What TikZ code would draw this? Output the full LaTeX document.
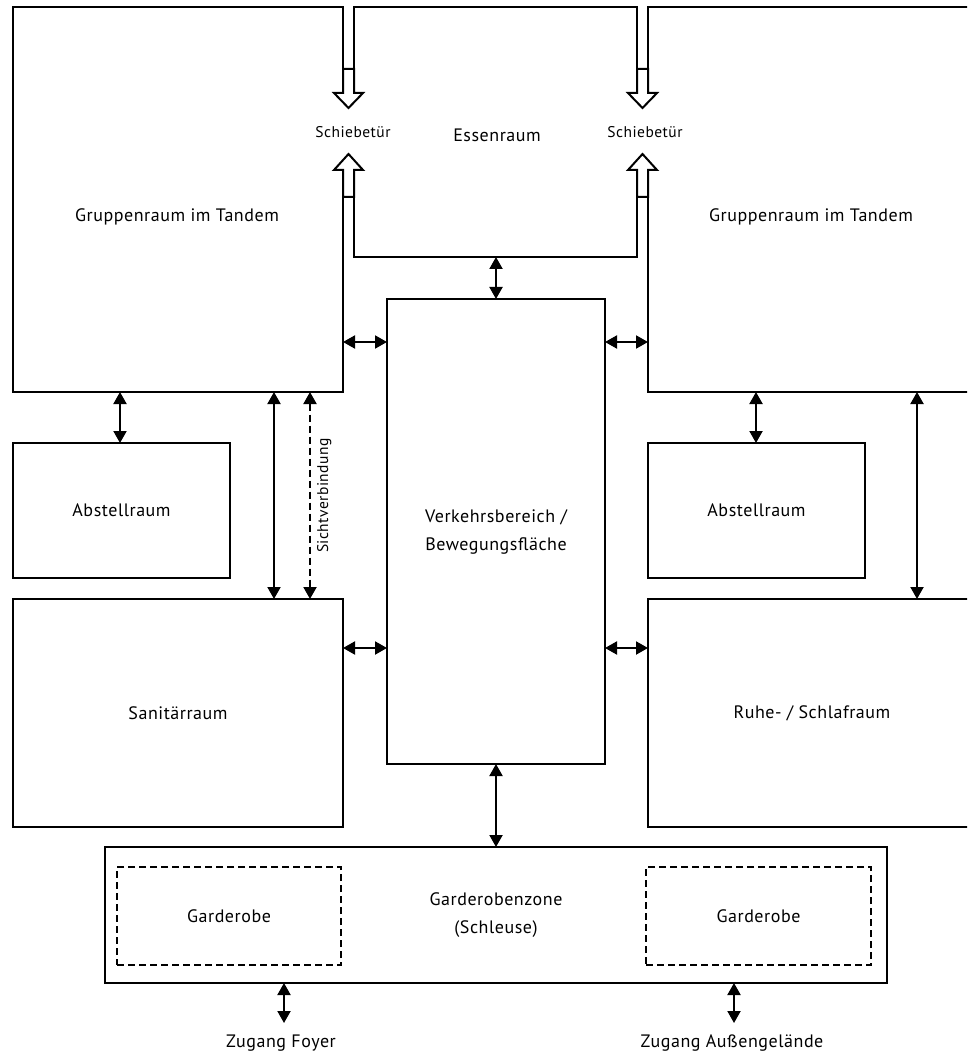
\documentclass[tikz,border=0pt]{standalone}
\usepackage{fontspec}
\setmainfont{PT Sans}[LetterSpace=3]
\usetikzlibrary{arrows.meta}
\begin{document}
\begin{tikzpicture}[x=1pt,y=-1pt,
  wall/.style={line width=2pt,line join=miter},
  room/.style={draw,line width=2pt,inner sep=0pt,outer sep=0pt,align=center,font=\fontsize{18}{28}\selectfont},
  garde/.style={room,dashed,dash pattern=on 7pt off 4pt},
  lbl/.style={inner sep=0pt,align=center,font=\fontsize{18}{28}\selectfont},
  small/.style={inner sep=0pt,font=\fontsize{15.5}{18}\selectfont},
  dbl/.style={line width=2pt,{Triangle[length=12pt,width=13pt]}-{Triangle[length=12pt,width=13pt]}},
  hollow/.style={line width=2pt,fill=white,line join=miter}]
\useasboundingbox (0,0) rectangle (967,1056);
\clip (0,0) rectangle (967,1056);
% irregular rooms
\draw[wall] (343,69) -- (343,7) -- (13,7) -- (13,392) -- (343,392) -- (343,197);
\draw[wall] (354,69) -- (354,7) -- (637,7) -- (637,69);
\draw[wall] (354,197) -- (354,257) -- (637,257) -- (637,197);
\draw[wall] (648,69) -- (648,7) -- (975,7);
\draw[wall] (975,392) -- (648,392) -- (648,197);
\draw[wall] (975,599) -- (648,599) -- (648,827) -- (975,827);
% hollow arrows (Schiebetür)
\draw[hollow] (343,69) -- (354,69) -- (354,93) -- (363,93) -- (348.5,108) -- (334,93) -- (343,93) -- cycle;
\draw[hollow] (343,197) -- (354,197) -- (354,170) -- (363,170) -- (348.5,154) -- (334,170) -- (343,170) -- cycle;
\draw[hollow] (637,69) -- (648,69) -- (648,93) -- (657,93) -- (642.5,108) -- (628,93) -- (637,93) -- cycle;
\draw[hollow] (637,197) -- (648,197) -- (648,170) -- (657,170) -- (642.5,154) -- (628,170) -- (637,170) -- cycle;
% labels of irregular rooms
\node[lbl] (grl) at (177,217) {Gruppenraum im Tandem};
\node[lbl] (grr) at (811,217) {Gruppenraum im Tandem};
\node[lbl] (ess) at (497,135) {Essenraum};
\node[small] (stl) at (353,132) {Schiebetür};
\node[small] (str) at (645,132) {Schiebetür};
\node[lbl] (ruhe) at (812,713) {Ruhe- / Schlafraum};
% rectangular rooms
\node[room,minimum width=217pt,minimum height=135pt] (abl) at (121.5,510.5) {Abstellraum};
\node[room,minimum width=330pt,minimum height=228pt] (san) at (178,713) {Sanitärraum};
\node[room,minimum width=218pt,minimum height=465pt] (verk) at (496,531.5) {Verkehrsbereich /\\Bewegungsfläche};
\node[room,minimum width=217pt,minimum height=135pt] (abr) at (756.5,510.5) {Abstellraum};
\node[room,minimum width=782pt,minimum height=136pt] (gz) at (496,915) {Garderobenzone\\(Schleuse)};
\node[garde,minimum width=224pt,minimum height=98pt] (g1) at (229,916) {Garderobe};
\node[garde,minimum width=225pt,minimum height=98pt] (g2) at (758.5,916) {Garderobe};
\node[lbl] (zf) at (281,1043) {Zugang Foyer};
\node[lbl] (za) at (732,1043) {Zugang Außengelände};
% anchor coordinates on irregular walls
\coordinate (essB) at (496,257);
\coordinate (grlR) at (343,342);
\coordinate (grrL) at (648,342);
\coordinate (grlB1) at (120,392);
\coordinate (grlB2) at (274,392);
\coordinate (grlB3) at (310,392);
\coordinate (grrB1) at (756,392);
\coordinate (grrB2) at (917,392);
\coordinate (ruheL) at (648,648);
\coordinate (ruheT) at (917,599);
\coordinate (zfT) at (284,1023);
\coordinate (zaT) at (734,1023);
% connectors
\draw[dbl] (essB) -- (essB |- verk.north);
\draw[dbl] (grlR) -- (grlR -| verk.west);
\draw[dbl] (verk.east |- grrL) -- (grrL);
\draw[dbl] (grlB1) -- (grlB1 |- abl.north);
\draw[dbl] (grlB2) -- (grlB2 |- san.north);
\draw[dbl] (grlB3) -- (grlB3 |- san.north)
  [dash pattern=on 7pt off 4pt]
  node[midway,right=6pt,inner sep=0pt,rotate=90,anchor=north,small] (sicht) {Sichtverbindung};
\draw[dbl] (grrB1) -- (grrB1 |- abr.north);
\draw[dbl] (grrB2) -- (ruheT);
\draw[dbl] (san.east |- 0,648) -- (verk.west |- 0,648);
\draw[dbl] (verk.east |- ruheL) -- (ruheL);
\draw[dbl] (verk.south) -- (verk.south |- gz.north);
\draw[dbl] (gz.south -| zfT) -- (zfT);
\draw[dbl] (gz.south -| zaT) -- (zaT);
\end{tikzpicture}
\end{document}
